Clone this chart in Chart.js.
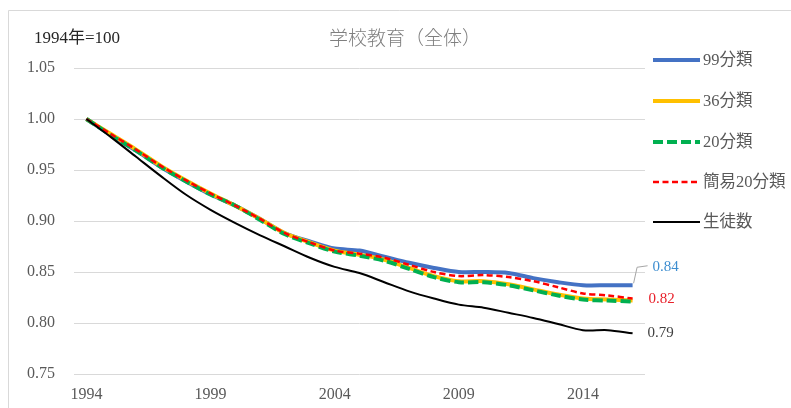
<!DOCTYPE html>
<html>
<head>
<meta charset="utf-8">
<script src="https://cdn.jsdelivr.net/npm/chart.js@4/dist/chart.umd.min.js"></script>
<style>
  html, body { margin: 0; padding: 0; background: #fff; }
  #wrap { width: 791px; height: 408px; position: relative; }
</style>
</head>
<body>
<div id="wrap"><canvas id="c" width="791" height="408"></canvas></div>
<script>
// 学校教育（全体）: index, 1994 = 1.00
const years = ['1994','1995','1996','1997','1998','1999','2000','2001','2002','2003','2004','2005',
               '2006','2007','2008','2009','2010','2011','2012','2013','2014','2015','2016'];
const yTicks = [0.75, 0.80, 0.85, 0.90, 0.95, 1.00, 1.05];
const seriesNames = ['99分類', '36分類', '20分類', '簡易20分類', '生徒数'];

const s99  = [1.000,0.984,0.969,0.953,0.939,0.926,0.915,0.902,0.888,0.880,0.873,0.871,0.865,0.859,0.854,0.850,0.850,0.849,0.844,0.840,0.837,0.837,0.837];
const s36  = [1.000,0.985,0.970,0.954,0.940,0.927,0.915,0.902,0.888,0.879,0.871,0.867,0.862,0.854,0.846,0.841,0.841,0.838,0.833,0.828,0.824,0.823,0.822];
const s20  = [1.000,0.984,0.969,0.953,0.939,0.926,0.915,0.901,0.887,0.878,0.870,0.866,0.861,0.853,0.845,0.840,0.840,0.837,0.832,0.827,0.823,0.822,0.821];
const sK20 = [1.000,0.985,0.970,0.954,0.940,0.927,0.915,0.902,0.888,0.879,0.871,0.868,0.864,0.857,0.850,0.846,0.847,0.845,0.841,0.835,0.829,0.827,0.824];
const students = [1.000,0.982,0.963,0.944,0.926,0.911,0.898,0.886,0.875,0.864,0.855,0.849,0.840,0.831,0.824,0.818,0.815,0.810,0.805,0.799,0.793,0.793,0.790];

const SERIF = "'Liberation Serif', 'Noto Sans CJK JP', serif";
const SANS_JP = "'Noto Sans CJK JP', sans-serif";

const styles = [
  { color: '#4472c4', width: 4,   dash: [],       order: 5 },
  { color: '#ffc000', width: 4,   dash: [],       order: 4 },
  { color: '#00b050', width: 4,   dash: [10, 4],  order: 3 },
  { color: '#ff0000', width: 2.5, dash: [6, 3.5], order: 2 },
  { color: '#000000', width: 2,   dash: [],       order: 1 }
];
const seriesData = [s99, s36, s20, sK20, students];

const datasets = seriesData.map((d, i) => ({
  label: seriesNames[i],
  data: d,
  borderColor: styles[i].color,
  backgroundColor: styles[i].color,
  borderWidth: styles[i].width,
  borderDash: styles[i].dash,
  order: styles[i].order,
  pointRadius: 0,
  tension: 0.3,
  fill: false,
  borderCapStyle: 'butt'
}));

// end-of-line value labels: dataset index, colour, offset of label from last point
const endLabels = [
  { ds: 0, color: '#3e8ed0', dx: 20, dy: -18, leader: true },
  { ds: 3, color: '#e8202a', dx: 16, dy: 1 },
  { ds: 4, color: '#404040', dx: 15, dy: 0 }
];

const decor = {
  id: 'decor',
  beforeDraw(chart) {
    const ctx = chart.ctx;
    ctx.save();
    ctx.fillStyle = '#ffffff';
    ctx.fillRect(0, 0, chart.width, chart.height);
    ctx.strokeStyle = '#d9d9d9';
    ctx.lineWidth = 1;
    ctx.beginPath();
    ctx.moveTo(8.5, chart.height);
    ctx.lineTo(8.5, 10.5);
    ctx.lineTo(chart.width, 10.5);
    ctx.stroke();
    ctx.restore();
  },
  afterDraw(chart) {
    const ctx = chart.ctx;
    ctx.save();
    // title and unit note
    ctx.textBaseline = 'middle';
    ctx.textAlign = 'center';
    ctx.fillStyle = '#7f7f7f';
    ctx.font = "300 19px " + SANS_JP;
    ctx.fillText('学校教育（全体）', 405, 38);
    ctx.textAlign = 'left';
    ctx.fillStyle = '#262626';
    ctx.font = "17px " + SERIF;
    ctx.fillText('1994年=100', 34, 39);

    // legend
    const legendY = [60, 101, 142, 182, 222];
    chart.data.datasets.forEach((ds, i) => {
      const y = legendY[i];
      ctx.strokeStyle = ds.borderColor;
      ctx.lineWidth = ds.borderWidth;
      ctx.setLineDash(ds.borderDash || []);
      ctx.beginPath();
      ctx.moveTo(653, y);
      ctx.lineTo(700, y);
      ctx.stroke();
      ctx.setLineDash([]);
      ctx.fillStyle = '#595959';
      ctx.font = "16.5px " + SERIF;
      ctx.textAlign = 'left';
      ctx.fillText(ds.label, 703, y + 1);
    });

    // end value labels
    endLabels.forEach(l => {
      const meta = chart.getDatasetMeta(l.ds);
      const pts = meta.data;
      const p = pts[pts.length - 1];
      const v = chart.data.datasets[l.ds].data[pts.length - 1];
      const tx = p.x + l.dx, ty = p.y + l.dy;
      if (l.leader) {
        ctx.strokeStyle = '#a6a6a6';
        ctx.lineWidth = 1;
        ctx.beginPath();
        ctx.moveTo(p.x + 1, p.y - 2);
        ctx.lineTo(p.x + 4.5, ty);
        ctx.lineTo(p.x + 15, ty - 1.5);
        ctx.stroke();
      }
      ctx.fillStyle = l.color;
      ctx.font = "15px " + SERIF;
      ctx.textAlign = 'left';
      ctx.fillText(v.toFixed(2), tx, ty);
    });
    ctx.restore();
  }
};

new Chart(document.getElementById('c'), {
  type: 'line',
  data: { labels: years, datasets },
  options: {
    responsive: false,
    animation: false,
    devicePixelRatio: 1,
    layout: { padding: { left: 0, right: 146, top: 68, bottom: 0 } },
    plugins: { legend: { display: false }, title: { display: false }, tooltip: { enabled: false } },
    scales: {
      x: {
        type: 'category',
        offset: true,
        grid: { display: false, drawTicks: false },
        border: { display: false },
        ticks: {
          autoSkip: false,
          maxRotation: 0,
          padding: 11,
          color: '#595959',
          font: { family: SERIF, size: 16 },
          callback: (v, i) => (i % 5 === 0 ? years[i] : '')
        },
        afterFit: s => { s.height = 34; }
      },
      y: {
        min: 0.75,
        max: 1.05,
        afterBuildTicks: s => { s.ticks = yTicks.map(v => ({ value: v })); },
        grid: { color: '#d9d9d9', lineWidth: 1, drawTicks: false },
        border: { display: false },
        ticks: {
          padding: 19,
          color: '#595959',
          font: { family: SERIF, size: 16 },
          callback: v => Number(v).toFixed(2)
        },
        afterFit: s => { s.width = 74; }
      }
    }
  },
  plugins: [decor]
});
</script>
</body>
</html>
